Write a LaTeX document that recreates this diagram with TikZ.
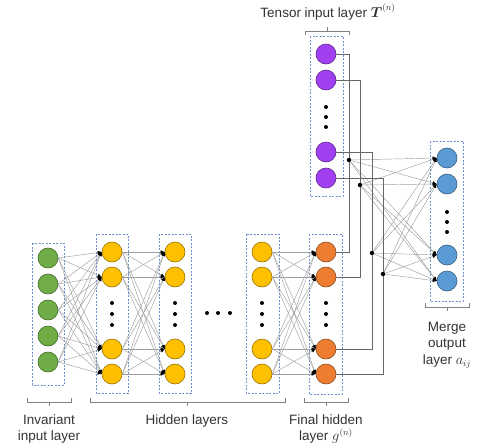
\documentclass[tikz,border=0pt]{standalone}
\usepackage{amsmath}
\usepackage{fontspec}
\setmainfont{Liberation Sans}
\usetikzlibrary{arrows.meta}
\definecolor{ingreen}{HTML}{70AD47}
\definecolor{hidyellow}{HTML}{FFC000}
\definecolor{finorange}{HTML}{ED7D31}
\definecolor{outblue}{HTML}{5B9BD5}
\definecolor{tenpurple}{HTML}{A040F0}
\definecolor{boxblue}{HTML}{6F8FCF}
\begin{document}
\begin{tikzpicture}[x=1pt,y=-1pt,
  neuron/.style={circle,draw=#1!60!black,fill=#1,minimum size=20pt,inner sep=0pt,line width=0.6pt},
  vdot/.style={circle,fill=black,minimum size=4pt,inner sep=0pt},
  junction/.style={circle,fill=black,minimum size=4.5pt,inner sep=0pt},
  link/.style={draw=gray!75,line width=0.45pt,-{Latex[black,length=4pt,width=3.5pt]}},
  wire/.style={draw=black!60,line width=0.6pt},
  layerbox/.style={draw=boxblue,dash pattern=on 2pt off 1.5pt,line width=0.7pt},
  bracket/.style={draw=gray,line width=0.6pt},
  lbl/.style={font=\fontsize{13.5}{16.5}\selectfont,align=center,text=black!80}]
\useasboundingbox (0,0) rectangle (483,448);

\foreach \y [count=\i] in {258,284,310,336,362}
  \node[neuron=ingreen] (in\i) at (48,\y) {};
\foreach \y [count=\i] in {252,277,349,374} {
  \node[neuron=hidyellow] (ha\i) at (112,\y) {};
  \node[neuron=hidyellow] (hb\i) at (175,\y) {};
  \node[neuron=hidyellow] (hc\i) at (262,\y) {};
  \node[neuron=finorange] (fin\i) at (326,\y) {};
}
\foreach \y [count=\i] in {54,80,152,178}
  \node[neuron=tenpurple] (ten\i) at (326,\y) {};
\foreach \y [count=\i] in {158,184,255,281}
  \node[neuron=outblue] (out\i) at (447,\y) {};

% dots between the neurons
\foreach \x/\n in {112/ha,175/hb,262/hc,326/fin}
  \foreach \y [count=\i] in {303,314,325}
    \node[vdot] (\n dot\i) at (\x,\y) {};
\foreach \y [count=\i] in {107,117,127}
  \node[vdot] (tendot\i) at (326,\y) {};
\foreach \y [count=\i] in {212,222,232}
  \node[vdot] (outdot\i) at (447,\y) {};
\foreach \x [count=\i] in {207,218,230}
  \node[vdot] (skipdot\i) at (\x,313) {};

% layer boxes
\draw[layerbox] (32,243) rectangle (64,385);
\draw[layerbox] (96,234) rectangle (128,393);
\draw[layerbox] (159,234) rectangle (191,393);
\draw[layerbox] (246,234) rectangle (279,393);
\draw[layerbox] (309,234) rectangle (342,394);
\draw[layerbox] (310,36) rectangle (343,196);
\draw[layerbox] (430,141) rectangle (463,301);

% dense connections
\foreach \i in {1,...,5}
  \foreach \j in {1,...,4}
    \draw[link] (in\i.east) -- (ha\j.west);
\foreach \i in {1,...,4}
  \foreach \j in {1,...,4} {
    \draw[link] (ha\i.east) -- (hb\j.west);
    \draw[link] (hc\i.east) -- (fin\j.west);
  }

% merge junctions
\node[junction] (d1) at (349,160) {};
\node[junction] (d2) at (360,185) {};
\node[junction] (d3) at (372,253) {};
\node[junction] (d4) at (383,274) {};
\foreach \i in {1,...,4} {
  \draw[wire] (ten\i) -| (d\i);
  \draw[wire] (fin\i) -| (d\i);
  \foreach \j in {1,...,4}
    \draw[link] (d\i) -- (out\j.west);
}

% brackets and labels
\draw[bracket] (305,35) -- (305,31) -- (349,31) -- (349,35) (327,31) -- (327,27);
\draw[bracket] (27,398) -- (27,402) -- (71,402) -- (71,398) (49,402) -- (49,406);
\draw[bracket] (90,398) -- (90,402) -- (285,402) -- (285,398) (187,402) -- (187,406);
\draw[bracket] (304,398) -- (304,402) -- (348,402) -- (348,398) (326,402) -- (326,406);
\draw[bracket] (425,303) -- (425,307) -- (469,307) -- (469,303) (447,307) -- (447,311);
\node[lbl] (tenlbl) at (328,12) {Tensor input layer $\boldsymbol{T}^{(n)}$};
\node[lbl] (inlbl) at (49,429) {Invariant\\input layer};
\node[lbl] (hidlbl) at (187,421) {Hidden layers};
\node[lbl] (finlbl) at (326,429) {Final hidden\\layer $g^{(n)}$};
\node[lbl] (outlbl) at (447,345) {Merge\\output\\layer $a_{ij}$};
\end{tikzpicture}
\end{document}
